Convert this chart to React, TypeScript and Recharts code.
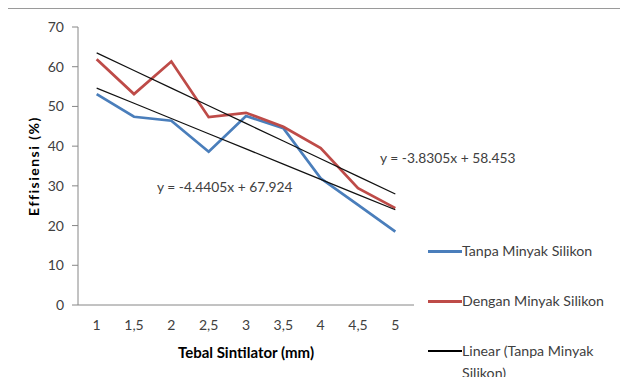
import React from 'react';
import { LineChart, Line, XAxis, YAxis, Label } from 'recharts';

// Tebal sintilator (mm)
const categories = ['1', '1,5', '2', '2,5', '3', '3,5', '4', '4,5', '5'];
// Effisiensi (%)
const tanpaMinyak = [53.1, 47.4, 46.4, 38.6, 47.6, 44.5, 31.9, 25.2, 18.5];
const denganMinyak = [61.9, 53.1, 61.3, 47.3, 48.4, 44.9, 39.5, 29.4, 24.4];
// trendline coefficients, x = point index (1..9)
const trendTanpa = { slope: -3.8305, intercept: 58.453 };
const trendDengan = { slope: -4.4405, intercept: 67.924 };
const yTicks = [0, 10, 20, 30, 40, 50, 60, 70];

const FONT = 'Lato, "Open Sans", sans-serif';
const TEXT = '#404040';
const AXIS = '#868686';
const BLUE = '#4a7ebb';
const RED = '#be4b48';

const data = categories.map((c, i) => ({
  tebal: c,
  tanpa: tanpaMinyak[i],
  dengan: denganMinyak[i],
  linTanpa: trendTanpa.slope * (i + 1) + trendTanpa.intercept,
  linDengan: trendDengan.slope * (i + 1) + trendDengan.intercept,
}));

const legendItems = [
  { label: 'Tanpa Minyak Silikon', color: BLUE, width: 3, top: 240 },
  { label: 'Dengan Minyak Silikon', color: RED, width: 3, top: 290 },
  { label: 'Linear (Tanpa Minyak Silikon)', color: '#000', width: 1.5, top: 340 },
];

const fmt = (t: { slope: number; intercept: number }) =>
  `y = ${t.slope}x + ${t.intercept}`;

const App = () => {
  return (
    <div
      style={{
        position: 'relative',
        width: 628,
        height: 385,
        margin: -8,
        overflow: 'hidden',
        fontFamily: FONT,
        background: '#fff',
      }}
    >
      <div
        style={{
          position: 'absolute',
          left: 5,
          top: 8,
          width: 660,
          height: 420,
          border: '1px solid #9a9a9a',
        }}
      />
      <LineChart
        width={628}
        height={385}
        data={data}
        margin={{ top: 27, right: 214, bottom: 50, left: 28 }}
        style={{ position: 'absolute', left: 0, top: 0 }}
      >
        <XAxis
          dataKey="tebal"
          interval={0}
          padding={{ left: 18.67, right: 18.67 }}
          tickLine={false}
          tickSize={6}
          tickMargin={9}
          height={30}
          axisLine={{ stroke: AXIS }}
          tick={{ fill: TEXT, fontSize: 14, fontFamily: FONT }}
        >
          <Label
            value="Tebal Sintilator (mm)"
            position="bottom"
            offset={12}
            style={{ fill: '#000', fontSize: 15, fontWeight: 700, fontFamily: FONT }}
          />
        </XAxis>
        <YAxis
          domain={[0, 70]}
          ticks={yTicks}
          width={50}
          tickSize={6}
          tickMargin={8}
          axisLine={{ stroke: AXIS }}
          tickLine={{ stroke: AXIS }}
          tick={{ fill: TEXT, fontSize: 14, fontFamily: FONT }}
        >
          <Label
            content={() => (
              <text
                x={33}
                y={166}
                transform="rotate(-90 33 166)"
                textAnchor="middle"
                dominantBaseline="central"
                style={{ fill: '#000', fontSize: 14, fontWeight: 700, fontFamily: FONT, letterSpacing: 1.5 }}
              >
                Effisiensi (%)
              </text>
            )}
          />
        </YAxis>
        <Line dataKey="tanpa" stroke={BLUE} strokeWidth={2.75} dot={false} isAnimationActive={false} />
        <Line dataKey="dengan" stroke={RED} strokeWidth={2.75} dot={false} isAnimationActive={false} />
        <Line dataKey="linTanpa" stroke="#111" strokeWidth={1.25} dot={false} isAnimationActive={false} />
        <Line dataKey="linDengan" stroke="#111" strokeWidth={1.25} dot={false} isAnimationActive={false} />
      </LineChart>

      <div style={{ position: 'absolute', left: 157, top: 178, fontSize: 13.8, color: TEXT, whiteSpace: 'nowrap' }}>
        {fmt(trendDengan)}
      </div>
      <div style={{ position: 'absolute', left: 380, top: 149, fontSize: 13.8, color: TEXT, whiteSpace: 'nowrap' }}>
        {fmt(trendTanpa)}
      </div>

      {legendItems.map((item) => (
        <div
          key={item.label}
          style={{ position: 'absolute', left: 428, top: item.top, display: 'flex', alignItems: 'flex-start' }}
        >
          <div
            style={{
              width: 34,
              height: item.width,
              background: item.color,
              marginTop: 11 - item.width / 2,
              flexShrink: 0,
            }}
          />
          <div style={{ width: 156, fontSize: 14.2, lineHeight: '22px', color: TEXT }}>{item.label}</div>
        </div>
      ))}
    </div>
  );
};

export default App;
